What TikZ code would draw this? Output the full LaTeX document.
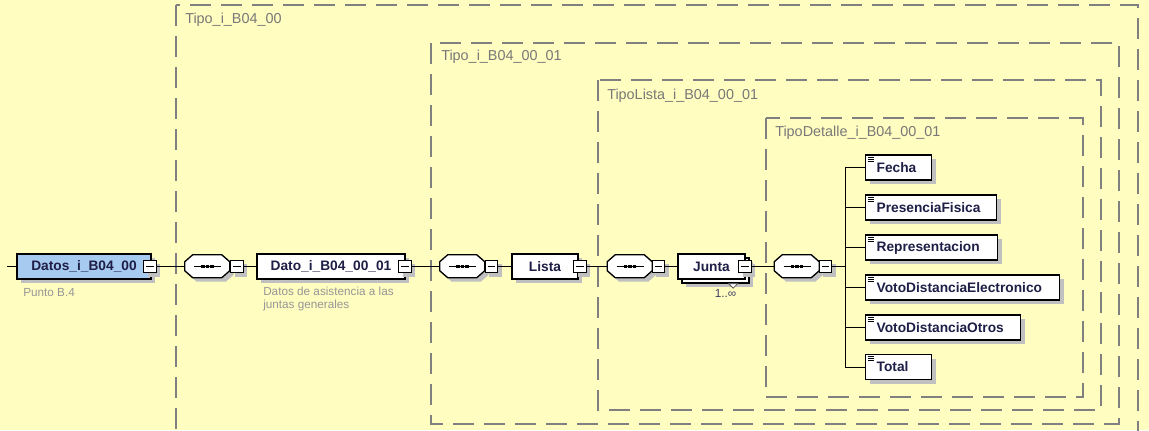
\documentclass[tikz,border=0pt]{standalone}
\usepackage{fontspec}
\setmainfont{Liberation Sans}
\usepackage{tikz}
\usepackage{xcolor}
\usetikzlibrary{shapes, arrows}

\begin{document}
\begin{tikzpicture}[x=0.75pt,y=0.75pt,yscale=-1,xscale=1,
    typebox/.style={draw={rgb, 255:red, 128; green, 128; blue, 128}, line width=1.1pt, dash pattern={on 15.75pt off 7.5pt}},
    typelabel/.style={anchor=west, inner sep=0pt, font=\fontsize{10.8pt}{12pt}\selectfont, text={rgb, 255:red, 120; green, 120; blue, 120}},
    desc/.style={anchor=west, inner sep=0pt, font=\fontsize{8.8pt}{9.75pt}\selectfont, text={rgb, 255:red, 150; green, 150; blue, 150}},
    shade/.style={preaction={fill={rgb, 255:red, 192; green, 192; blue, 192}, transform canvas={xshift=3pt, yshift=-3pt}}},
    box/.style={draw, line width=1pt, fill=white, minimum height=18.75pt, inner sep=0pt, font=\fontsize{10.3pt}{12pt}\selectfont\bfseries, text={rgb, 255:red, 30; green, 30; blue, 70}},
    elem/.style={box, shade},
    rootbox/.style={elem, fill={rgb, 255:red, 166; green, 202; blue, 240}},
    leaf/.style={elem, anchor=west, inner xsep=8.25pt, align=left, text width=#1},
    minus/.style={shade, draw, line width=0.75pt, fill=white, minimum size=9.5pt, inner sep=0pt, path picture={\draw[line width=0.75pt] ([xshift=2pt]path picture bounding box.west) -- ([xshift=-2pt]path picture bounding box.east);}},
    seqbox/.style={inner sep=0pt, minimum width=33.75pt, minimum height=17.25pt},
    seqline/.style={shade, draw, line width=1pt, fill=white},
    conn/.style={line width=0.75pt},
    icon/.style={line width=0.6pt}]
    \useasboundingbox (0,0) rectangle (1149,430);
    \fill[fill={rgb, 255:red, 255; green, 253; blue, 192}] (0,0) rectangle (1149,430);

    % Type boxes
    \draw[typebox] (176,5) rectangle (1138,440);
    \node[typelabel] (tipo) at (185,20) {Tipo\_i\_B04\_00};
    \draw[typebox] (431,43) rectangle (1119,424);
    \node[typelabel] (tipodato) at (441,57) {Tipo\_i\_B04\_00\_01};
    \draw[typebox] (598,80) rectangle (1101,410);
    \node[typelabel] (tipolista) at (607,96) {TipoLista\_i\_B04\_00\_01};
    \draw[typebox] (766,118) rectangle (1083,397);
    \node[typelabel] (tipodetalle) at (775,133) {TipoDetalle\_i\_B04\_00\_01};

    % Root
    \coordinate (stub) at (7,266.5);
    \node[rootbox, minimum width=100.5pt] (datos) at (84,266.5) {Datos\_i\_B04\_00};
    \node[minus] (datosm) at (150,266.5) {};
    \node[desc] (datosdoc) at (23,293) {Punto B.4};

    % Sequence compositors
    \node[seqbox] (seq1) at (207.5,266.5) {};
    \node[seqbox] (seq2) at (462.5,266.5) {};
    \node[seqbox] (seq3) at (630,266.5) {};
    \node[seqbox] (seq4) at (797,266.5) {};
    \foreach \s in {seq1,seq2,seq3,seq4} {
        \draw[seqline] (\s.north west) ++(8,0) -- ++(29,0) -- ++(8,7) -- ++(0,9) -- ++(-8,7) -- ++(-29,0) -- ++(-8,-7) -- ++(0,-9) -- cycle;
        \draw[line width=1pt] (\s.center) ++(-13.5,0) -- ++(27,0);
        \foreach \d in {-4.5,0,4.5}
            \fill (\s.center) ++(\d,0) +(-1.6,-1.6) rectangle +(1.6,1.6);
    }
    \node[minus] (seq1m) at (237,266.5) {};
    \node[minus] (seq2m) at (491.5,266.5) {};
    \node[minus] (seq3m) at (658.5,266.5) {};
    \node[minus] (seq4m) at (825.5,266.5) {};

    % Dato
    \node[elem, minimum width=111pt] (dato) at (331,266.5) {Dato\_i\_B04\_00\_01};
    \node[minus] (datom) at (405,266.5) {};
    \node[desc, align=left, anchor=north west] (datodoc) at (263,287) {Datos de asistencia a las\\juntas generales};

    % Lista
    \node[elem, minimum width=49.5pt] (lista) at (545,266.5) {Lista};
    \node[minus] (listam) at (580,266.5) {};

    % Junta (repeated)
    \node[elem, minimum width=50.25pt] (juntaback) at (715.5,270.5) {};
    \draw[fill=white, draw={rgb, 255:red, 90; green, 90; blue, 90}, line width=0.6pt] (juntaback.south east) ++(-12,0) -- ++(-4.5,4.5) -- ++(-4.5,-4.5) -- cycle;
    \node[box, minimum width=50.25pt] (junta) at (711.5,266.5) {Junta};
    \node[minus] (juntam) at (745,266.5) {};
    \node[inner sep=0pt, font=\fontsize{8.8pt}{10pt}\selectfont, text={rgb, 255:red, 60; green, 60; blue, 100}] (juntaocc) at (725.5,293) {1..∞};
    \coordinate (bus) at (845,266.5);

    % Leaf elements
    \node[leaf=33pt] (fecha) at (865,167.5) {Fecha};
    \node[leaf=81.75pt] (presencia) at (865,207.5) {PresenciaFisica};
    \node[leaf=82.5pt] (representacion) at (865,247.5) {Representacion};
    \node[leaf=129pt] (electronico) at (865,287.5) {VotoDistanciaElectronico};
    \node[leaf=99.75pt] (otros) at (865,327.5) {VotoDistanciaOtros};
    \node[leaf=33pt] (total) at (865,367) {Total};
    \foreach \n in {fecha,presencia,representacion,electronico,otros,total}
        \foreach \k in {0,2,4}
            \draw[icon] (\n.north west) ++(3,3+\k) -- ++(6,0);

    % Connection
    \draw[conn] (stub) -- (datos);
    \draw[conn] (datosm) -- (seq1);
    \draw[conn] (seq1m) -- (dato);
    \draw[conn] (datom) -- (seq2);
    \draw[conn] (seq2m) -- (lista);
    \draw[conn] (listam) -- (seq3);
    \draw[conn] (seq3m) -- (junta);
    \draw[conn] (juntam) -- (seq4);
    \draw[conn] (seq4m) -- (bus);
    \draw[conn] (fecha.west -| bus) -- (total.west -| bus);
    \foreach \n in {fecha,presencia,representacion,electronico,otros,total}
        \draw[conn] (\n.west -| bus) -- (\n.west);

\end{tikzpicture}
\end{document}
